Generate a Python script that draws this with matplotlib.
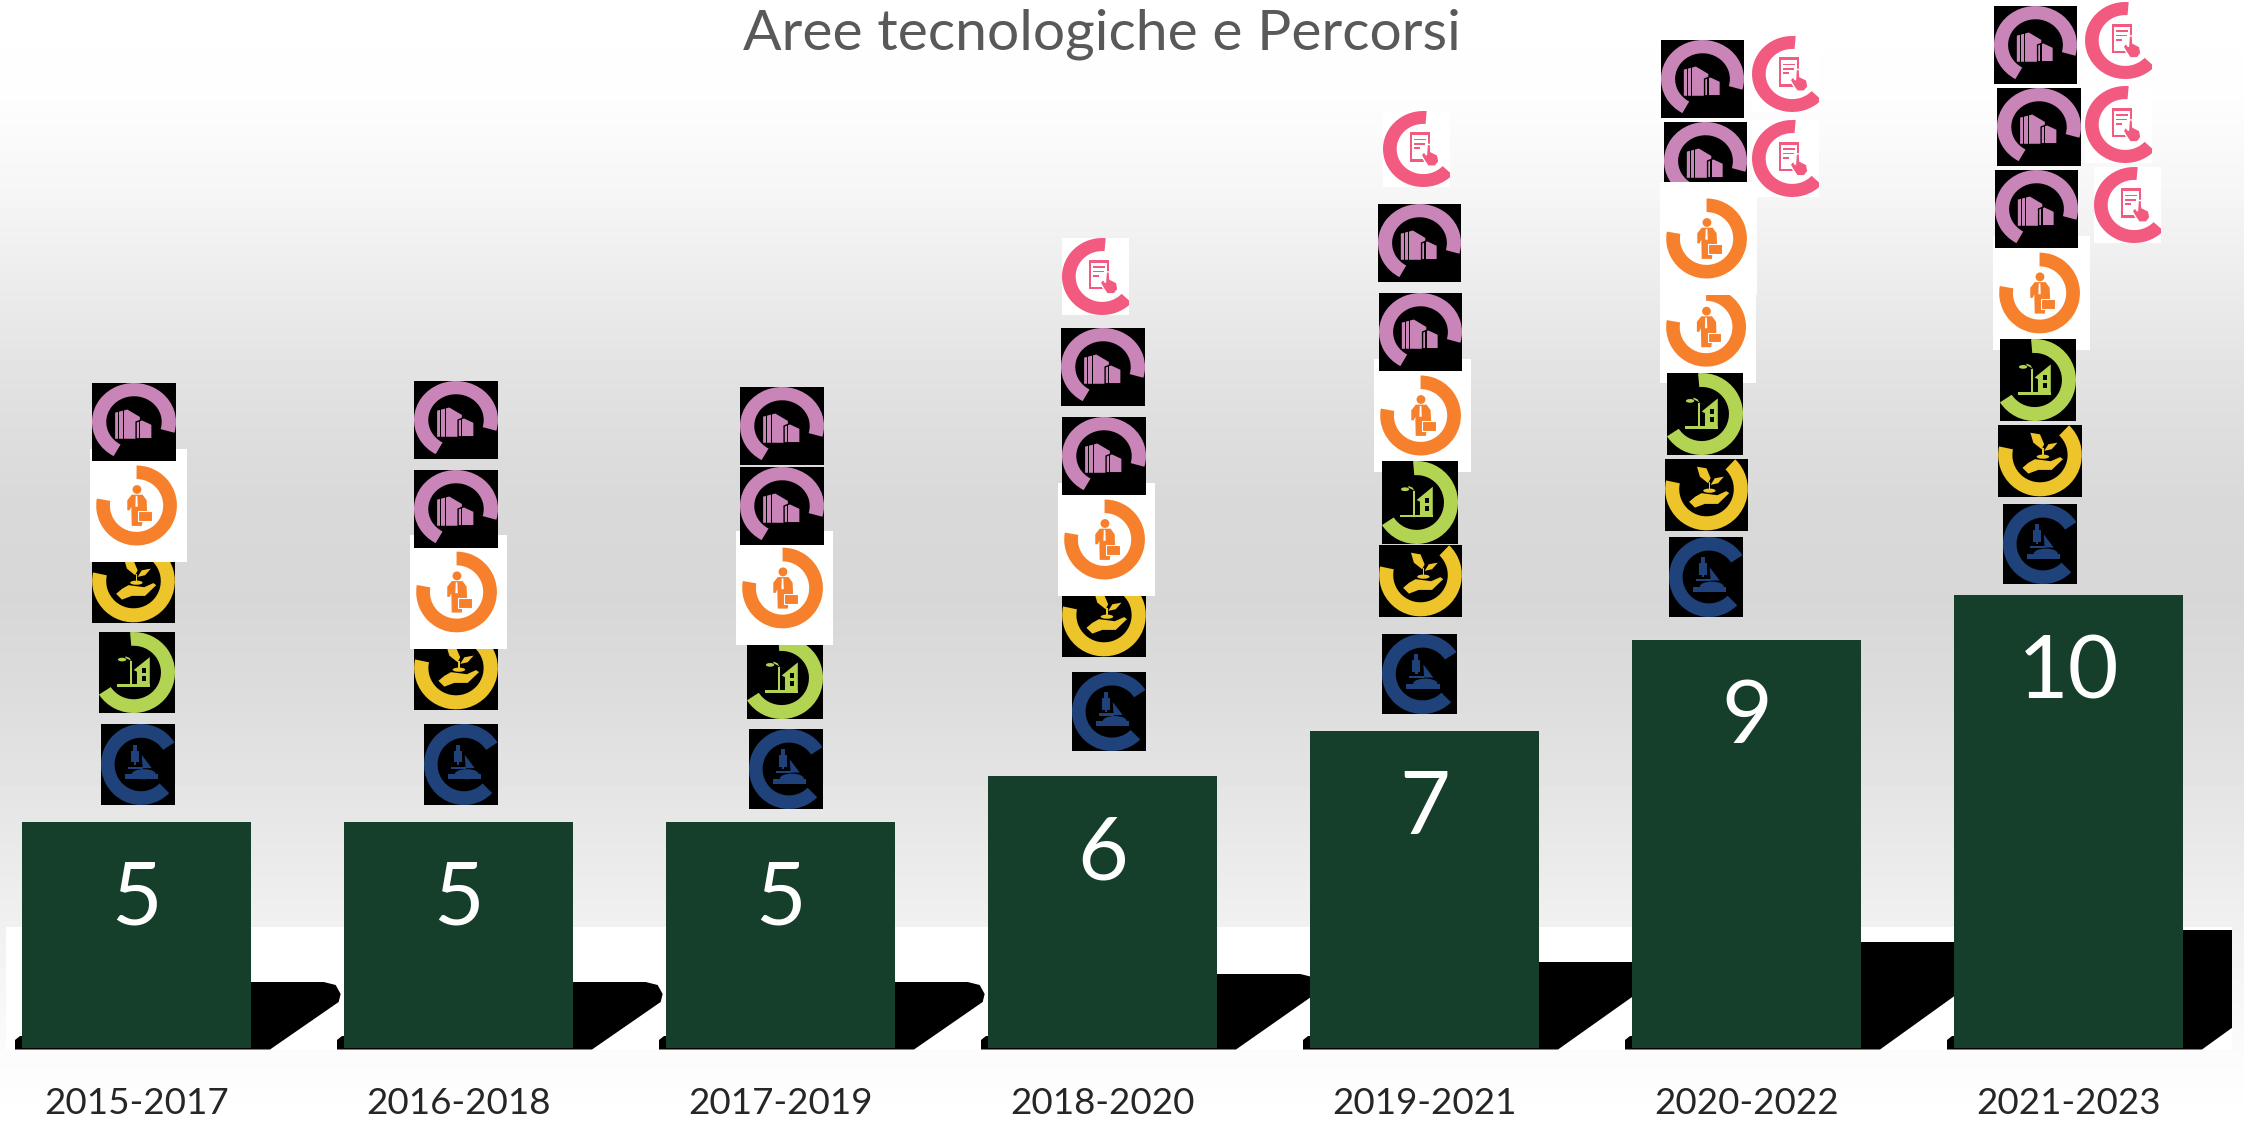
#!/usr/bin/env python3
"""Aree tecnologiche e Percorsi: bars per triennium with the area icons stacked on top."""

import numpy as np
import matplotlib
matplotlib.use('Agg')
import matplotlib.pyplot as plt
from matplotlib.patches import Circle, Ellipse, Polygon, Rectangle, Wedge
from matplotlib.transforms import Affine2D

periods = ['2015-2017', '2016-2018', '2017-2019', '2018-2020', '2019-2021', '2020-2022', '2021-2023']
counts = [5, 5, 5, 6, 7, 9, 10]

# ── Layout, in pixels of the 2244x1122 picture ──
W, H = 2244, 1122
BASE_Y = 1048
UNIT_PX = 45.3
BAR_X0 = 136.5
BAR_STEP = 322
BAR_PX = 229
SHADOW_TOPS = [982, 982, 982, 974, 962, 942, 930]

# page gradient (y pixel, grey level)
GRAD_Y = [0, 100, 200, 300, 400, 500, 600, 700, 820, 920, 1050, 1122]
GRAD_V = [255, 253, 245, 234, 224, 217, 215, 221, 231, 240, 251, 255]

BUILD, WORK, AGRI, CITY, LAB, DOC = 'build', 'work', 'agri', 'city', 'lab', 'doc'

# kind: colour, background, ring centre and radii (fractions of the box), arc
ICON_STYLE = {
    BUILD: ('#C985B8', 'black', 0.50, 0.50, 0.50, 0.50, -16, 241),
    WORK:  ('#F6802B', 'white', 0.48, 0.50, 0.416, 0.354, 170, 450),
    AGRI:  ('#EEC42B', 'black', 0.50, 0.417, 0.498, 0.574, 168, 406),
    CITY:  ('#B3D453', 'black', 0.456, 0.50, 0.544, 0.50, 213, 455),
    LAB:   ('#1E4279', 'black', 0.54, 0.50, 0.54, 0.50, 33, 315),
    DOC:   ('#F25A80', 'white', 0.60, 0.50, 0.60, 0.50, 85, 317),
}

# one list per bar, later icons lie on top: kind, x0, y0, x1, y1, crop of the top
ICONS = [
    [(AGRI, 92, 551, 175, 623, 0), (WORK, 90, 449, 187, 562, 0), (BUILD, 92, 383, 176, 461, 0),
     (CITY, 99, 632, 175, 713, 0), (LAB, 101, 724, 175, 805, 0)],
    [(AGRI, 414, 638, 498, 710, 0), (WORK, 410, 535, 507, 649, 0), (BUILD, 414, 381, 498, 459, 0),
     (BUILD, 414, 470, 498, 548, 0), (LAB, 424, 724, 498, 805, 0)],
    [(CITY, 747, 637, 823, 719, 0), (WORK, 736, 531, 833, 645, 0), (BUILD, 740, 387, 824, 465, 0),
     (BUILD, 740, 467, 824, 545, 0), (LAB, 749, 729, 823, 809, 0)],
    [(AGRI, 1062, 585, 1146, 657, 0), (WORK, 1058, 483, 1155, 596, 0), (DOC, 1062, 238, 1129, 315, 0),
     (BUILD, 1061, 328, 1145, 406, 0), (BUILD, 1062, 417, 1146, 495, 0), (LAB, 1072, 672, 1146, 751, 0)],
    [(WORK, 1374, 359, 1471, 472, 0), (DOC, 1383, 111, 1450, 187, 0), (BUILD, 1378, 204, 1461, 282, 0),
     (BUILD, 1379, 293, 1462, 371, 0), (CITY, 1382, 461, 1458, 544, 0), (AGRI, 1379, 545, 1462, 617, 0),
     (LAB, 1382, 634, 1457, 714, 0)],
    [(BUILD, 1661, 40, 1744, 118, 0), (BUILD, 1664, 122, 1747, 200, 0), (DOC, 1752, 36, 1819, 112, 0),
     (DOC, 1752, 120, 1819, 197, 0), (WORK, 1660, 271, 1756, 383, 24), (WORK, 1660, 182, 1757, 295, 0),
     (CITY, 1667, 373, 1743, 455, 0), (AGRI, 1665, 459, 1748, 531, 0), (LAB, 1669, 537, 1743, 617, 0)],
    [(WORK, 1993, 236, 2090, 350, 0), (BUILD, 1994, 6, 2077, 84, 0), (BUILD, 1997, 88, 2081, 166, 0),
     (BUILD, 1995, 170, 2078, 248, 0), (DOC, 2085, 2, 2152, 79, 0), (DOC, 2085, 86, 2152, 163, 0),
     (DOC, 2094, 167, 2161, 243, 0), (CITY, 2000, 339, 2076, 421, 0), (AGRI, 1998, 425, 2082, 497, 0),
     (LAB, 2003, 504, 2077, 584, 0)],
]


def draw_glyph(ax, kind, col, bg, tr):
    """Pictogram inside the ring, in units of the ring radius (y up)."""
    def poly(pts, fc=col, **kw):
        ax.add_patch(Polygon(pts, closed=True, fc=fc, ec='none', transform=tr, **kw))

    def box(u0, v0, u1, v1, fc=col):
        poly([(u0, v0), (u1, v0), (u1, v1), (u0, v1)], fc=fc)

    if kind == BUILD:
        poly([(-.45, .24), (-.16, .32), (.14, .13), (.14, -.43), (-.45, -.43)])
        for u in (-.38, -.27):
            box(u, -.43, u + .025, .32, fc=bg)
        ax.add_patch(Polygon([(.05, 0), (.19, .06), (.43, -.06), (.43, -.43), (.05, -.43)], closed=True,
                             fc=col, ec=bg, lw=1, transform=tr))
        for u in (.12,):
            box(u, -.43, u + .025, .05, fc=bg)
    elif kind == WORK:
        ax.add_patch(Circle((.01, .40), .11, fc=col, ec='none', transform=tr))
        poly([(-.23, .13), (-.12, .27), (.15, .27), (.25, .13), (.26, -.13), (.18, -.13), (.13, -.51),
              (-.12, -.51), (-.13, -.03), (-.17, -.12), (-.23, -.12)])
        poly([(-.02, .24), (.02, .24), (.03, -.03), (-.03, -.03)], fc=bg)
        ax.add_patch(Rectangle((.04, -.39), .34, .25, fc=col, ec=bg, lw=.8, transform=tr))
        box(.14, -.14, .26, -.09)
    elif kind == AGRI:
        poly([(-.42, -.31), (-.28, -.19), (-.12, -.10), (.26, -.15), (.48, -.05), (.55, -.10), (.28, -.36),
              (-.04, -.36), (-.28, -.45)])
        ax.add_patch(Ellipse((.07, -.04), .30, .10, fc=col, ec='none', transform=tr))
        poly([(-.23, .54), (0, .50), (.10, .26), (.04, .14), (-.16, .30)])
        poly([(.42, .30), (.20, .26), (.10, .10), (.28, .14)])
        box(.05, -.04, .09, .16)
    elif kind == CITY:
        box(-.41, -.36, .39, -.29)
        box(-.08, -.31, -.04, .28)
        poly([(-.08, .30), (-.04, .26), (-.10, .36), (-.20, .40), (-.20, .36)])
        ax.add_patch(Ellipse((-.28, .32), .20, .09, fc=col, ec='none', transform=tr))
        poly([(0, .06), (.39, .38), (.39, -.31), (.08, -.31), (.08, .02)])
        box(.20, 0, .30, .11, fc=bg)
        box(.20, -.20, .30, -.08, fc=bg)
    elif kind == LAB:
        box(-.40, -.37, .43, -.24)
        ax.add_patch(Ellipse((.07, -.24), .60, .25, fc=col, ec='none', transform=tr))
        box(-.33, -.11, .04, -.05)
        poly([(.02, .24), (.27, -.09), (.04, -.09)])
        box(-.25, .05, -.06, .34)
        box(-.20, .34, -.10, .49)
        box(-.18, -.01, -.12, .05)
    else:
        box(-.34, -.33, .18, .44)
        box(-.27, -.26, .11, .36, fc=bg)
        for v, u1 in ((.25, .08), (.13, .04), (.02, -.07)):
            box(-.22, v - .02, u1, v + .02)
        ax.add_patch(Polygon([(-.05, -.16), (.02, -.07), (.08, -.16), (.10, .12), (.18, .12), (.19, -.07),
                              (.36, -.16), (.39, -.33), (.30, -.45), (.12, -.45), (.02, -.29)], closed=True,
                             fc=col, ec=bg, lw=1, transform=tr))


def draw_icon(ax, kind, x0, y0, x1, y1, crop_top=0):
    col, bg, fx, fy, frx, fry, t1, t2 = ICON_STYLE[kind]
    w, h = x1 - x0, y1 - y0
    clip = Rectangle((x0, y0 + crop_top), w, h - crop_top, fc=bg, ec='none')
    ax.add_patch(clip)
    tr = Affine2D().scale(frx * w, -fry * h).translate(x0 + fx * w, y0 + fy * h) + ax.transData
    ring = Wedge((0, 0), 1, t1, t2, width=0.34, fc=col, ec='none', transform=tr)
    ax.add_patch(ring)
    ring.set_clip_path(clip)
    draw_glyph(ax, kind, col, bg, tr)


plt.rcParams['font.family'] = ['Lato', 'DejaVu Sans']
fig = plt.figure(figsize=(W / 100, H / 100), dpi=100)

# ── Page: gradient, white band and the bar shadows ──
bg_ax = fig.add_axes([0, 0, 1, 1], zorder=0)
grad = np.interp(np.arange(H), GRAD_Y, GRAD_V)[:, None]
bg_ax.imshow(grad, cmap='gray', vmin=0, vmax=255, aspect='auto', extent=(0, W, H, 0))
bg_ax.set_xlim(0, W)
bg_ax.set_ylim(H, 0)
bg_ax.axis('off')
band = Rectangle((6, 927), 2226, 123, fc='white', ec='none')
bg_ax.add_patch(band)
for i, t in enumerate(SHADOW_TOPS):
    left = BAR_X0 + i * BAR_STEP - BAR_PX / 2
    right = left + BAR_PX
    ext = 89 * (1049.5 - t) / 67
    sh = Polygon([(right, t), (right + ext - 17, t), (right + ext - 5, t + 3), (right + ext, t + 12),
                  (right + ext - 2, t + 20), (right + 19, 1049.5), (left - 7, 1049.5), (left - 7, 1040),
                  (left - 2, 1036), (right, 1036)], closed=True, fc='black', ec='none')
    bg_ax.add_patch(sh)
    sh.set_clip_path(band)

# ── Bars ──
ax = fig.add_axes([0, (H - BASE_Y) / H, 1, BASE_Y / H], zorder=1)
ax.patch.set_visible(False)
x = np.arange(len(periods))
bars = ax.bar(x, counts, width=BAR_PX / BAR_STEP, color='#153F2B')
ax.bar_label(bars, labels=[str(c) for c in counts], padding=-85, color='white', fontsize=63)
ax.set_xlim(-BAR_X0 / BAR_STEP, (W - BAR_X0) / BAR_STEP)
ax.set_ylim(0, BASE_Y / UNIT_PX)
ax.set_xticks(x)
ax.set_xticklabels(periods, fontsize=26.5, color='#262626')
ax.tick_params(axis='x', length=0, pad=28)
ax.set_yticks([])
for s in ax.spines.values():
    s.set_visible(False)

# ── Icons, on top of everything ──
ic_ax = fig.add_axes([0, 0, 1, 1], zorder=2)
ic_ax.patch.set_visible(False)
ic_ax.set_xlim(0, W)
ic_ax.set_ylim(H, 0)
ic_ax.axis('off')
for column in ICONS:
    for item in column:
        draw_icon(ic_ax, *item)

fig.text(770 * 1.431 / W, 1 - 34 / H, 'Aree tecnologiche e Percorsi', ha='center', va='center',
         fontsize=41, color='#595959', zorder=3)

fig.savefig('out.png', dpi=100)
